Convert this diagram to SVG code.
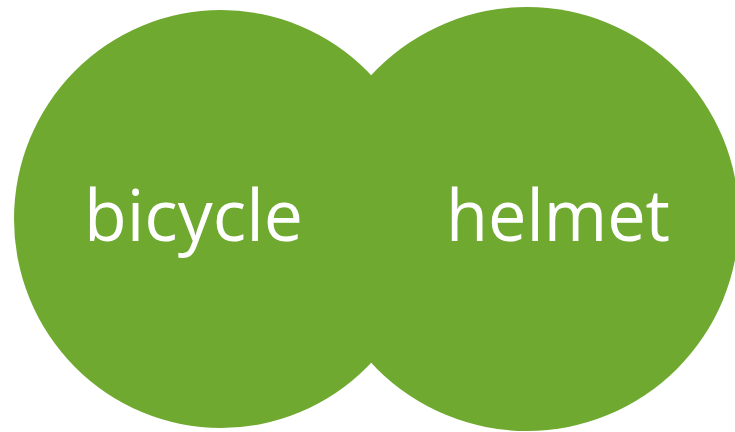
<svg xmlns="http://www.w3.org/2000/svg" width="735" height="432" viewBox="0 0 735 432">
<style>
.c{fill:#6fa92f}
.t{fill:#ffffff;font-family:"Open Sans","Liberation Sans",sans-serif;font-size:72px}
</style>
<rect width="735" height="432" fill="#ffffff"/>
<g id="node-bicycle">
<ellipse class="c" cx="221" cy="219" rx="207" ry="209"/>
<text class="t" x="84" y="241" textLength="219" lengthAdjust="spacingAndGlyphs">bicycle</text>
</g>
<g id="node-helmet">
<ellipse class="c" cx="527" cy="219" rx="212" ry="212"/>
<text class="t" x="446" y="241" textLength="224" lengthAdjust="spacingAndGlyphs">helmet</text>
</g>
<g id="connectors"></g>
</svg>
